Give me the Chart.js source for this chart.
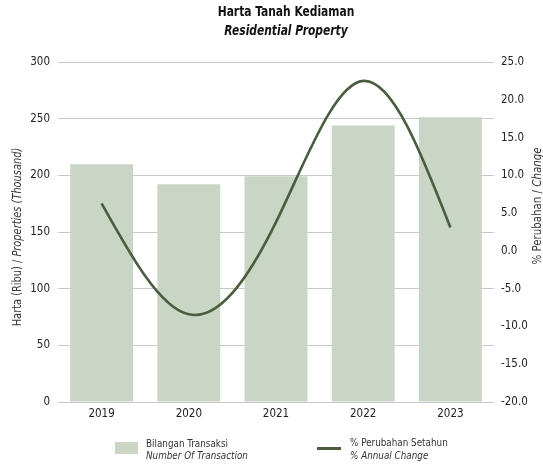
<!DOCTYPE html>
<html>
<head>
<meta charset="utf-8">
<script src="https://cdn.jsdelivr.net/npm/chart.js@4/dist/chart.umd.min.js"></script>
<style>
  html, body { margin: 0; padding: 0; background: #fff; }
  #chart-box { width: 543px; height: 468px; }
</style>
</head>
<body>
<div id="chart-box"><canvas id="results-graph" width="543" height="468"></canvas></div>
<script>
// data
var YEARS = ['2019', '2020', '2021', '2022', '2023'];
var TRANSACTIONS = [209.8, 192.2, 199.2, 244.0, 251.2]; // thousand properties
var ANNUAL_CHANGE = [6.3, -8.4, 3.8, 22.5, 3.1];       // %
var LEFT_TICKS = [0, 50, 100, 150, 200, 250, 300];
var RIGHT_TICKS = [-20, -15, -10, -5, 0, 5, 10, 15, 20, 25];

var FONT = '"DejaVu Sans Condensed", "Liberation Sans", sans-serif';
var BAR_COLOR = '#c9d5c5';
var LINE_COLOR = '#4a5d3e';
var TEXT_COLOR = '#222';

/*
  drawParts : draws a line made of regular / italic pieces, squeezed horizontally by sx
*/
function drawParts(ctx, parts, x, y, size, weight, align, sx) {
  var total = 0;
  parts.forEach(function (p) {
    ctx.font = (p.italic ? 'italic ' : '') + weight + ' ' + size + 'px ' + FONT;
    p.w = ctx.measureText(p.text).width;
    total += p.w;
  });
  ctx.save();
  ctx.translate(x, y);
  ctx.scale(sx, 1);
  var cx = align === 'center' ? -total / 2 : 0;
  ctx.textAlign = 'left';
  ctx.textBaseline = 'middle';
  parts.forEach(function (p) {
    ctx.font = (p.italic ? 'italic ' : '') + weight + ' ' + size + 'px ' + FONT;
    ctx.fillText(p.text, cx, 0);
    cx += p.w;
  });
  ctx.restore();
}

/*
  naturalSpline : swaps Chart.js bezier control points of line datasets
  for the ones of a natural cubic spline (the smoothing used by the source chart)
*/
var naturalSpline = {
  id: 'naturalSpline',
  beforeDatasetDraw: function (chart, args) {
    var meta = args.meta;
    if (meta.type !== 'line') return;
    var line = meta.dataset;
    line.updateControlPoints(chart.chartArea, 'x');
    var pts = meta.data, n = pts.length - 1;
    if (n < 2) return;
    var h = (pts[n].x - pts[0].x) / n;
    // tridiagonal system for slopes
    var a = [], b = [], c = [], r = [];
    for (var i = 0; i <= n; i++) {
      if (i === 0) { a[i] = 0; b[i] = 2; c[i] = 1; r[i] = 3 * (pts[1].y - pts[0].y) / h; }
      else if (i === n) { a[i] = 1; b[i] = 2; c[i] = 0; r[i] = 3 * (pts[n].y - pts[n - 1].y) / h; }
      else { a[i] = 1; b[i] = 4; c[i] = 1; r[i] = 3 * (pts[i + 1].y - pts[i - 1].y) / h; }
    }
    for (i = 1; i <= n; i++) {
      var m = a[i] / b[i - 1];
      b[i] -= m * c[i - 1];
      r[i] -= m * r[i - 1];
    }
    var s = [];
    s[n] = r[n] / b[n];
    for (i = n - 1; i >= 0; i--) s[i] = (r[i] - c[i] * s[i + 1]) / b[i];
    for (i = 0; i <= n; i++) {
      pts[i].cp1x = pts[i].x - h / 3;
      pts[i].cp1y = pts[i].y - s[i] * h / 3;
      pts[i].cp2x = pts[i].x + h / 3;
      pts[i].cp2y = pts[i].y + s[i] * h / 3;
    }
    line._path = undefined;
  }
};

var textPlugin = {
  id: 'texts',
  afterDraw: function (chart) {
    var ctx = chart.ctx;
    ctx.save();
    ctx.fillStyle = '#111';
    // title
    drawParts(ctx, [{ text: 'Harta Tanah Kediaman' }], 286, 12, 14, 'bold', 'center', 0.85);
    drawParts(ctx, [{ text: 'Residential Property', italic: true }], 286, 31, 14, 'bold', 'center', 0.85);

    ctx.fillStyle = '#333';
    // left axis title
    ctx.save();
    ctx.translate(17.5, 237);
    ctx.rotate(-Math.PI / 2);
    drawParts(ctx, [{ text: 'Harta (Ribu) / ' }, { text: 'Properties (Thousand)', italic: true }], 0, 0, 12, 'normal', 'center', 0.91);
    ctx.restore();
    // right axis title
    ctx.save();
    ctx.translate(538, 206);
    ctx.rotate(-Math.PI / 2);
    drawParts(ctx, [{ text: '% Perubahan / ' }, { text: 'Change', italic: true }], 0, 0, 12, 'normal', 'center', 0.95);
    ctx.restore();

    // legend
    ctx.fillStyle = BAR_COLOR;
    ctx.fillRect(115, 442, 23, 12);
    ctx.fillStyle = '#333';
    drawParts(ctx, [{ text: 'Bilangan Transaksi' }], 146, 444, 11, 'normal', 'left', 0.89);
    drawParts(ctx, [{ text: 'Number Of Transaction', italic: true }], 146, 456.5, 11, 'normal', 'left', 0.89);

    ctx.strokeStyle = LINE_COLOR;
    ctx.lineWidth = 3;
    ctx.beginPath();
    ctx.moveTo(317, 448.5);
    ctx.lineTo(341, 448.5);
    ctx.stroke();
    drawParts(ctx, [{ text: '% Perubahan Setahun' }], 350, 443.5, 11, 'normal', 'left', 0.89);
    drawParts(ctx, [{ text: '% Annual Change', italic: true }], 350, 456.5, 11, 'normal', 'left', 0.89);
    ctx.restore();
  }
};

Chart.defaults.font.family = FONT;
Chart.defaults.font.size = 11.5;
Chart.defaults.color = TEXT_COLOR;

var ctx = document.getElementById('results-graph').getContext('2d');
window.myBarChart = new Chart(ctx, {
  type: 'bar',
  data: {
    labels: YEARS,
    datasets: [
      {
        type: 'line',
        label: '% Perubahan Setahun',
        data: ANNUAL_CHANGE,
        yAxisID: 'y1',
        borderColor: LINE_COLOR,
        borderWidth: 2.6,
        pointRadius: 0,
        tension: 0.4, // needed so Chart.js draws bezier segments
        fill: false,
        order: 0
      },
      {
        label: 'Bilangan Transaksi',
        data: TRANSACTIONS,
        yAxisID: 'y',
        backgroundColor: BAR_COLOR,
        borderWidth: 0,
        categoryPercentage: 1,
        barPercentage: 0.722,
        order: 1
      }
    ]
  },
  options: {
    responsive: false,
    devicePixelRatio: 1,
    animation: false,
    events: [],
    layout: { padding: { top: 62, left: 0, right: 0, bottom: 0 } },
    plugins: {
      legend: { display: false },
      title: { display: false },
      tooltip: { enabled: false }
    },
    scales: {
      x: {
        grid: { display: false, drawTicks: false },
        border: { display: false },
        ticks: { padding: 5, color: TEXT_COLOR },
        afterFit: function (s) { s.height = 66; }
      },
      y: {
        position: 'left',
        min: 0,
        max: 300,
        afterBuildTicks: function (s) { s.ticks = LEFT_TICKS.map(function (v) { return { value: v }; }); },
        grid: { color: '#c9c9c9', lineWidth: 1, drawTicks: false },
        border: { display: false },
        ticks: { padding: 8, color: TEXT_COLOR },
        afterFit: function (s) { s.width = 58; }
      },
      y1: {
        position: 'right',
        min: -20,
        max: 25,
        afterBuildTicks: function (s) { s.ticks = RIGHT_TICKS.map(function (v) { return { value: v }; }); },
        grid: { display: false, drawTicks: false },
        border: { display: false },
        ticks: {
          padding: 7,
          color: TEXT_COLOR,
          callback: function (v) { return Number(v).toFixed(1); }
        },
        afterFit: function (s) { s.width = 49; }
      }
    }
  },
  plugins: [naturalSpline, textPlugin]
});
</script>
</body>
</html>
